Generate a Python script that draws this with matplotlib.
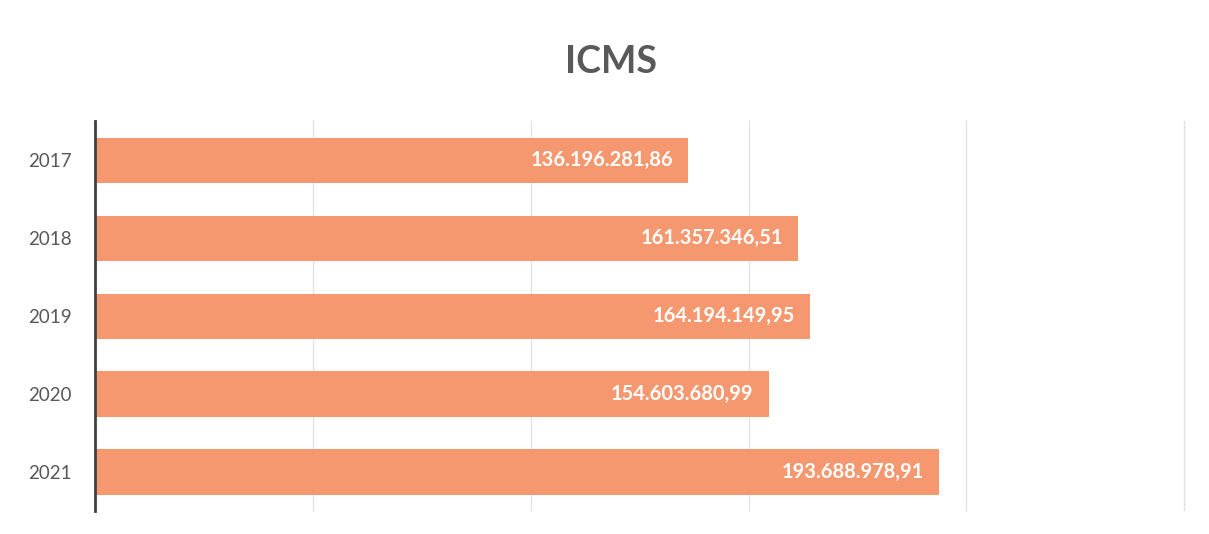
import matplotlib

matplotlib.use("Agg")
import matplotlib.pyplot as plt
from matplotlib.ticker import MultipleLocator

plt.rcParams["font.family"] = ["Lato", "DejaVu Sans"]

YEARS = ["2017", "2018", "2019", "2020", "2021"]
VALUES = [136196281.86, 161357346.51, 164194149.95, 154603680.99, 193688978.91]
LABELS = ["136.196.281,86", "161.357.346,51", "164.194.149,95", "154.603.680,99", "193.688.978,91"]

BAR_COLOR = "#F5986F"
TEXT_GRAY = "#595959"

fig = plt.figure(figsize=(12.09, 5.34), dpi=100)
ax = fig.add_axes([0.0786, 0.043, 0.9024, 0.730])

pos = list(range(len(YEARS)))
ax.barh(pos, VALUES, height=0.58, color=BAR_COLOR, zorder=2)

# value labels sit inside the bar, right-aligned near its end
for y, v, lab in zip(pos, VALUES, LABELS):
    ax.annotate(lab, xy=(v, y), xytext=(-11, 0), textcoords="offset points",
                ha="right", va="center", color="white", fontsize=14.5,
                fontweight="bold", zorder=3)

# a hair past 250M so the last gridline is still drawn
ax.set_xlim(0, 250.4e6)
ax.set_ylim(4.5, -0.5)
ax.xaxis.set_major_locator(MultipleLocator(50e6))
ax.set_xticklabels([])
ax.tick_params(axis="x", length=0)
ax.set_yticks(pos)
ax.set_yticklabels(YEARS, fontsize=13.5, color=TEXT_GRAY)
ax.tick_params(axis="y", length=0, pad=17)
ax.grid(axis="x", color="#E0E0E0", linewidth=0.9)
ax.set_axisbelow(True)
for side in ("top", "right", "bottom"):
    ax.spines[side].set_visible(False)
ax.spines["left"].set_color("#404040")
ax.spines["left"].set_linewidth(2)

fig.text(0.505, 0.884, "ICMS", ha="center", va="center", fontsize=27,
         fontweight="bold", color=TEXT_GRAY)

fig.savefig("out.png", dpi=100)
